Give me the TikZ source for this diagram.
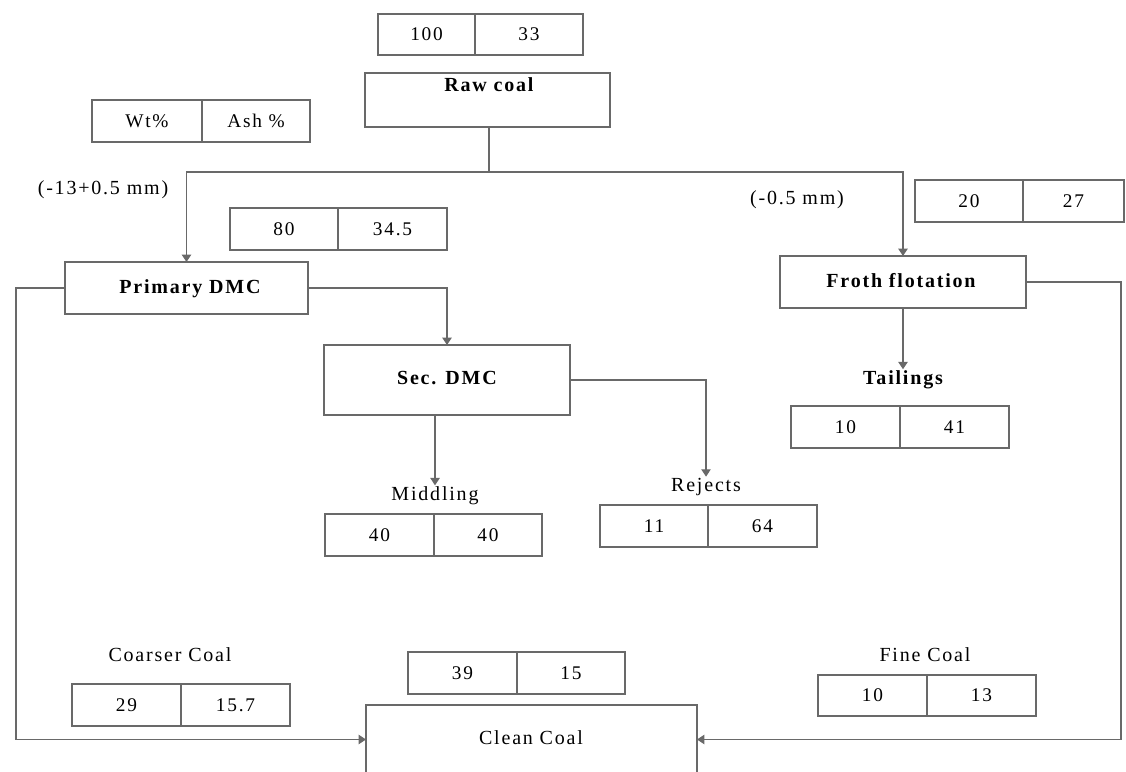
\documentclass[tikz,border=0pt]{standalone}
\usepackage{fontspec}
\setmainfont{Liberation Serif}[LetterSpace=9]
\usetikzlibrary{arrows.meta}
\definecolor{ln}{RGB}{105,105,105}
\newcommand\pbox[6]{%
  \node[box, minimum width={(#3-#2)*0.75pt}, minimum height={(#5-#4)*0.75pt}] (#1) at ({(#2+#3)/2},{(#4+#5)/2}) {#6};}
\newcommand\pairbox[8]{% name, x1, xm, x2, y1, y2, a, b
  \pbox{#1a}{#2}{#3}{#5}{#6}{#7}\pbox{#1b}{#3}{#4}{#5}{#6}{#8}}
\begin{document}
\begin{tikzpicture}[x=0.75pt,y=-0.75pt,
  box/.style={draw=ln, line width=1pt, inner sep=0pt, outer sep=0pt, font=\fontsize{14.5}{16}\selectfont},
  lbl/.style={font=\fontsize{15}{17}\selectfont\bfseries, inner sep=1pt},
  lblr/.style={font=\fontsize{15}{17}\selectfont, inner sep=1pt},
  line/.style={draw=ln, line width=1pt},
  arr/.style={line, -{Triangle[length=5.5pt,width=7pt]}}]
\useasboundingbox (0,0) rectangle (1126,771);
% data boxes
\pairbox{top}{378}{475}{583}{14}{55}{100}{33}
\pairbox{leg}{92}{202}{310}{100}{142}{Wt\%}{Ash \%}
\pairbox{pd}{230}{338}{447}{208}{250}{80}{34.5}
\pairbox{ff}{915}{1023}{1124}{180}{222}{20}{27}
\pairbox{tl}{791}{900}{1009}{406}{448}{10}{41}
\pairbox{md}{325}{434}{542}{514}{556}{40}{40}
\pairbox{rj}{600}{708}{817}{505}{547}{11}{64}
\pairbox{cl}{408}{517}{625}{652}{694}{39}{15}
\pairbox{cs}{72}{181}{290}{684}{726}{29}{15.7}
\pairbox{fn}{818}{927}{1036}{675}{716}{10}{13}
% process boxes
\pbox{raw}{365}{610}{73}{127}{}
\node[lbl] at (489,85) {Raw coal};
\pbox{prim}{65}{308}{262}{314}{}
\node[lbl] at (190,289) {Primary DMC};
\pbox{froth}{780}{1026}{256}{308}{}
\node[lbl] at (901,281) {Froth flotation};
\pbox{sec}{324}{570}{345}{415}{}
\node[lbl] at (447,378) {Sec. DMC};
\pbox{clean}{366}{697}{705}{774}{}
\node[lblr] at (531,738) {Clean Coal};
% labels
\node[lblr] at (103,190) {(-13+0.5 mm)};
\node[lblr] at (797,200) {(-0.5 mm)};
\node[lbl] (tail) at (903,380) {Tailings};
\node[lblr] (midl) at (435,496) {Middling};
\node[lblr] (rejl) at (706,487) {Rejects};
\node[lblr] at (170,655) {Coarser Coal};
\node[lblr] at (925,655) {Fine Coal};
% connectors
\coordinate (sp) at (489,172);
\draw[line] (sp |- raw.south) -- (sp);
\draw[arr] (sp) -| (prim.north);
\draw[arr] (sp) -| (froth.north);
\draw[arr] (prim.east) -| (sec.north);
\draw[arr] (midl.north |- sec.south) -- (midl.north);
\draw[arr] (sec.east) -| (rejl.north);
\draw[arr] (tail.north |- froth.south) -- (tail.north);
\coordinate (rc) at (1121,0 |- clean.east);
\coordinate (lc) at (16,0 |- clean.west);
\draw[arr] (froth.east) -| (rc) -- (clean.east);
\draw[arr] (prim.west) -| (lc) -- (clean.west);
\end{tikzpicture}
\end{document}
